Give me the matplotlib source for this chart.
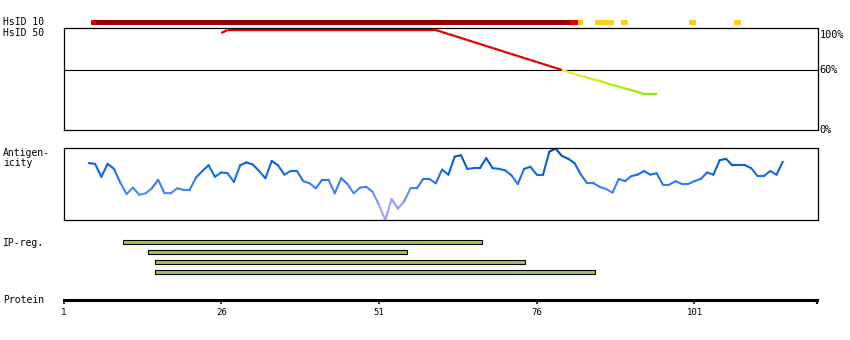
import numpy as np
import matplotlib.pyplot as plt
from matplotlib.collections import LineCollection
from matplotlib.colors import LinearSegmentedColormap, Normalize

# ---- data ----
protein_end = 120.5
tick_residues = [1, 26, 51, 76, 101]

# HsID 10 track: residue spans and identity level (2 = high, 1 = mid, 0 = low)
hsid10_start = [5.4, 6.2, 81.3, 82.5, 85.3, 89.3, 100.2, 107.2]
hsid10_end = [6.2, 81.3, 82.5, 83.4, 88.3, 90.4, 101.3, 108.3]
hsid10_level = [1, 2, 1, 0, 0, 0, 0, 0]

# HsID 50 identity (%) per residue, starting at residue 26
hsid50_first = 26
hsid50_identity = [
    97, 100, 100, 100, 100, 100, 100, 100, 100, 100,
    100, 100, 100, 100, 100, 100, 100, 100, 100, 100,
    100, 100, 100, 100, 100, 100, 100, 100, 100, 100,
    100, 100, 100, 100, 100, 98, 96, 94, 92, 90,
    88, 86, 84, 82, 80, 78, 76, 74, 72, 70,
    68, 66, 64, 62, 60, 58, 56, 54, 52.5, 50.5,
    49, 47, 45, 43.5, 41.5, 40, 38, 36, 36, 36,
]

# antigenicity score (0-100 of panel height) per residue, starting at residue 5
antigen_first = 5
antigen_scores = [
    79, 78, 60, 78, 71, 52, 36, 45, 35, 37,
    44, 56, 37, 37, 44, 42, 42, 59, 68, 76,
    60, 66, 65, 53, 76, 80, 77, 68, 58, 82,
    76, 63, 68, 68, 54, 51, 44, 56, 56, 37,
    58, 50, 37, 45, 46, 39, 21, 0, 29, 16,
    26, 44, 44, 57, 57, 51, 70, 63, 88, 90,
    71, 72, 72, 86, 72, 71, 69, 62, 50, 71,
    74, 63, 63, 95, 99, 89, 85, 79, 63, 51,
    51, 46, 43, 38, 57, 54, 61, 63, 68, 63,
    65, 49, 49, 54, 50, 50, 54, 57, 66, 63,
    83, 85, 76, 76, 76, 72, 61, 61, 68, 63,
    81,
]

# IP regions (residue spans)
ip_start = [10.4, 14.4, 15.5, 15.5]
ip_end = [67.3, 55.4, 74.2, 85.3]

# ---- drawing ----
W, H = 850, 340
fig = plt.figure(figsize=(W / 100, H / 100), dpi=100)
mono = "DejaVu Sans Mono"


def px_axes(x0, y0, x1, y1):
    return fig.add_axes([x0 / W, 1 - y1 / H, (x1 - x0) / W, (y1 - y0) / H])


def label(x, y, s, size=7):
    fig.text(x / W, 1 - y / H, s, family=mono, fontsize=size, va="center", ha="left")


X0, X1 = 63.5, 817.5

# HsID 10 bar
ax10 = px_axes(X0, 20, X1, 25)
ax10.set_xlim(1, protein_end)
ax10.set_ylim(0, 1)
ax10.axis("off")
level_colors = {2: "#990000", 1: "#e00000", 0: "#ffcc22"}
for s, e, lv in zip(hsid10_start, hsid10_end, hsid10_level):
    ax10.axvspan(s, e, color=level_colors[lv], lw=0)

# HsID 50 identity panel
ax50 = px_axes(X0, 28, X1, 130)
ax50.set_xlim(1, protein_end)
ax50.set_ylim(0, 102)
ax50.set_xticks([])
ax50.set_yticks([])
for sp in ax50.spines.values():
    sp.set_linewidth(0.9)
ax50.axhline(60, color="black", lw=0.8)

ident = np.array(hsid50_identity, dtype=float)
res = np.arange(hsid50_first, hsid50_first + len(ident))
pts = np.column_stack([res, ident])
segs = np.stack([pts[:-1], pts[1:]], axis=1)
low_cmap = LinearSegmentedColormap.from_list("low", ["#88ee00", "#bbee00", "#f8f020"])
low_norm = Normalize(36, 60)
seg_cols = []
for a, b in zip(ident[:-1], ident[1:]):
    m = (a + b) / 2
    seg_cols.append("#e00000" if m >= 60 else low_cmap(low_norm(m)))
ax50.add_collection(LineCollection(segs, colors=seg_cols, linewidths=1.6,
                                   capstyle="butt"))

ytr = ax50.get_yaxis_transform()
ax50.text(1.003, 100, "100%", transform=ytr, family=mono, fontsize=7.4, va="top")
ax50.text(1.003, 60, "60%", transform=ytr, family=mono, fontsize=7.4, va="center")
ax50.text(1.003, 0, "0%", transform=ytr, family=mono, fontsize=7.4, va="center")

# antigenicity panel
axa = px_axes(X0, 148, X1, 220)
axa.set_xlim(1, protein_end)
axa.set_ylim(0, 100)
axa.set_xticks([])
axa.set_yticks([])
for sp in axa.spines.values():
    sp.set_linewidth(0.9)

sc = np.array(antigen_scores, dtype=float)
ares = np.arange(antigen_first, antigen_first + len(sc))
apts = np.column_stack([ares, sc])
asegs = np.stack([apts[:-1], apts[1:]], axis=1)
ag_cmap = LinearSegmentedColormap.from_list(
    "ag",
    [(0.0, "#b4aaff"), (0.25, "#8c96ff"), (0.4, "#4a88ff"), (0.55, "#2a78f2"),
     (0.7, "#0c68e2"), (0.85, "#0a58c4"), (1.0, "#0a4494")],
)
acols = [ag_cmap((a + b) / 200) for a, b in zip(sc[:-1], sc[1:])]
lc = LineCollection(asegs, colors=acols, linewidths=1.5, capstyle="round")
lc.set_clip_on(False)
axa.add_collection(lc)

# IP regions
axi = px_axes(X0, 237.3, X1, 277.3)
axi.set_xlim(1, protein_end)
axi.set_ylim(3.5, -0.5)
axi.axis("off")
rows = np.arange(len(ip_start))
axi.barh(rows, np.array(ip_end) - np.array(ip_start), left=ip_start, height=0.42,
         color="#9fc55a", edgecolor="black", linewidth=0.8)

# protein axis
axp = px_axes(X0, 290, X1, 300)
axp.set_xlim(1, protein_end)
axp.set_yticks([])
for s in ["top", "left", "right"]:
    axp.spines[s].set_visible(False)
axp.spines["bottom"].set_linewidth(2.2)
axp.patch.set_visible(False)
axp.set_xticks(tick_residues)
axp.set_xticklabels([str(t) for t in tick_residues], family=mono, fontsize=6.5)
axp.tick_params(axis="x", which="major", direction="out", length=3.2, width=1.1, pad=2.5)
axp.set_xticks([1, protein_end], minor=True)
axp.tick_params(axis="x", which="minor", direction="out", length=3.2, width=1.6)

# left labels
label(3, 22, "HsID 10")
label(3, 32.5, "HsID 50")
label(3, 153.3, "Antigen-")
label(3, 163.3, "icity")
label(3, 243, "IP-reg.")
label(3, 300, "Protein")

fig.savefig("out.png", dpi=100)
